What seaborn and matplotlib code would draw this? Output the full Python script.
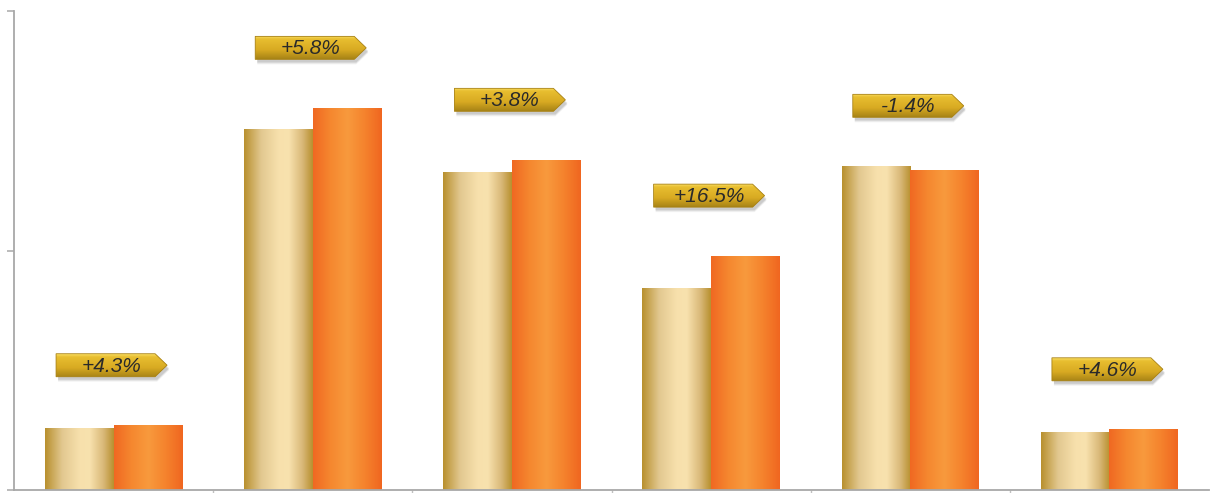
import numpy as np
import pandas as pd
import matplotlib
matplotlib.use("Agg")
import matplotlib.pyplot as plt
import seaborn as sns
from matplotlib.patches import Polygon
from matplotlib.transforms import IdentityTransform
from matplotlib.colors import LinearSegmentedColormap

# ---- data ----
categories = ["A", "B", "C", "D", "E", "F"]
series_prev = [0.258, 1.508, 1.329, 0.842, 1.354, 0.242]
series_curr = [0.271, 1.596, 1.379, 0.979, 1.338, 0.254]
change_labels = ["+4.3%", "+5.8%", "+3.8%", "+16.5%", "-1.4%", "+4.6%"]
series_names = ["prev", "curr"]

df = pd.DataFrame({
    "cat": categories * 2,
    "val": series_prev + series_curr,
    "series": [series_names[0]] * 6 + [series_names[1]] * 6,
})

sns.set_theme(style="white")
plt.rcParams["font.family"] = ["Liberation Sans", "DejaVu Sans"]

DPI = 100
FW, FH = 12.14, 4.93
fig = plt.figure(figsize=(FW, FH), dpi=DPI)
ax = fig.add_axes([14 / 1214, 3 / 493, (1209 - 14) / 1214, (490 - 11) / 493])

sns.barplot(data=df, x="cat", y="val", hue="series", ax=ax, width=0.69,
            palette=["#E8C77A", "#F58A30"], legend=False, saturation=1)

gold = LinearSegmentedColormap.from_list("gold", [
    (0.0, "#B8902E"), (0.25, "#E2C890"), (0.5, "#F7E0AC"), (0.65, "#F8E2AE"),
    (0.85, "#D9B878"), (1.0, "#B8902E")])
orange = LinearSegmentedColormap.from_list("orange", [
    (0.0, "#F06822"), (0.25, "#F5872F"), (0.5, "#F89A3D"), (0.75, "#F5832D"),
    (1.0, "#F06620")])
grad = np.linspace(0, 1, 256).reshape(1, -1)

patches = list(ax.patches)
n = len(categories)
for i, p in enumerate(patches):
    x0, y0 = p.get_x(), p.get_y()
    w, h = p.get_width(), p.get_height()
    cmap = gold if i < n else orange
    im = ax.imshow(grad, cmap=cmap, extent=(x0, x0 + w, y0, y0 + h),
                   aspect="auto", zorder=2, interpolation="bicubic")
    im.set_clip_path(p)
    p.set_facecolor("none")
    p.set_edgecolor("none")
ax.set_xlim(-0.5, 5.5)
ax.set_ylim(0, 2)

# spines/ticks
for s in ["top", "right"]:
    ax.spines[s].set_visible(False)
for s in ["left", "bottom"]:
    ax.spines[s].set_color("#A8A8A8")
    ax.spines[s].set_linewidth(1.3)
ax.set_yticks([0, 1, 2])
ax.set_yticklabels([])
ax.set_xticks([0.5, 1.5, 2.5, 3.5, 4.5])
ax.set_xticklabels([])
ax.tick_params(axis="y", direction="out", length=5, width=1.1, color="#A8A8A8", left=True)
ax.tick_params(axis="x", direction="out", length=5, width=1.0, color="#C0C0C0", bottom=True)
ax.set_xlabel("")
ax.set_ylabel("")

fig.canvas.draw()

# arrow label boxes
box_cmap = LinearSegmentedColormap.from_list("box", [
    (0.0, "#F8DC60"), (0.12, "#E8BE30"), (0.6, "#D8AA22"), (1.0, "#A88416")])
for i, lab in enumerate(change_labels):
    top = max(series_prev[i], series_curr[i])
    cx, cy = ax.transData.transform((i, top + 0.25))
    cx -= 2
    W, H, tip = 99, 23, 12
    lx, rx = cx - (W + tip) / 2, cx - (W + tip) / 2 + W
    by, ty = cy - H / 2, cy + H / 2
    pts = [(lx, by), (rx, by), (rx + tip, cy), (rx, ty), (lx, ty)]
    # soft shadow
    for k, a in [(5, 0.05), (4, 0.07), (3, 0.09)]:
        sh = Polygon([(x + 2, y - k) for x, y in pts], closed=True, transform=IdentityTransform(),
                     facecolor="#000000", alpha=a, edgecolor="none", zorder=4)
        fig.add_artist(sh)
    poly = Polygon(pts, closed=True, transform=IdentityTransform(),
                   facecolor="none", edgecolor="#A88010", linewidth=0.6, zorder=6)
    fig.add_artist(poly)
    vgrad = np.linspace(0, 1, 64).reshape(-1, 1)
    fx0, fx1 = lx / (FW * DPI), (rx + tip) / (FW * DPI)
    fy0, fy1 = by / (FH * DPI), ty / (FH * DPI)
    iax = fig.add_axes([fx0, fy0, fx1 - fx0, fy1 - fy0], zorder=5)
    iax.axis("off")
    im = iax.imshow(vgrad, cmap=box_cmap, aspect="auto", extent=(0, 1, 0, 1))
    clip = Polygon(pts, closed=True, transform=IdentityTransform())
    im.set_clip_path(clip)
    fig.text(cx / (FW * DPI), (cy - 1) / (FH * DPI), lab, ha="center", va="center",
             fontsize=15, style="italic", color="#2A2A2A", zorder=10)

fig.savefig("out.png", dpi=DPI)
